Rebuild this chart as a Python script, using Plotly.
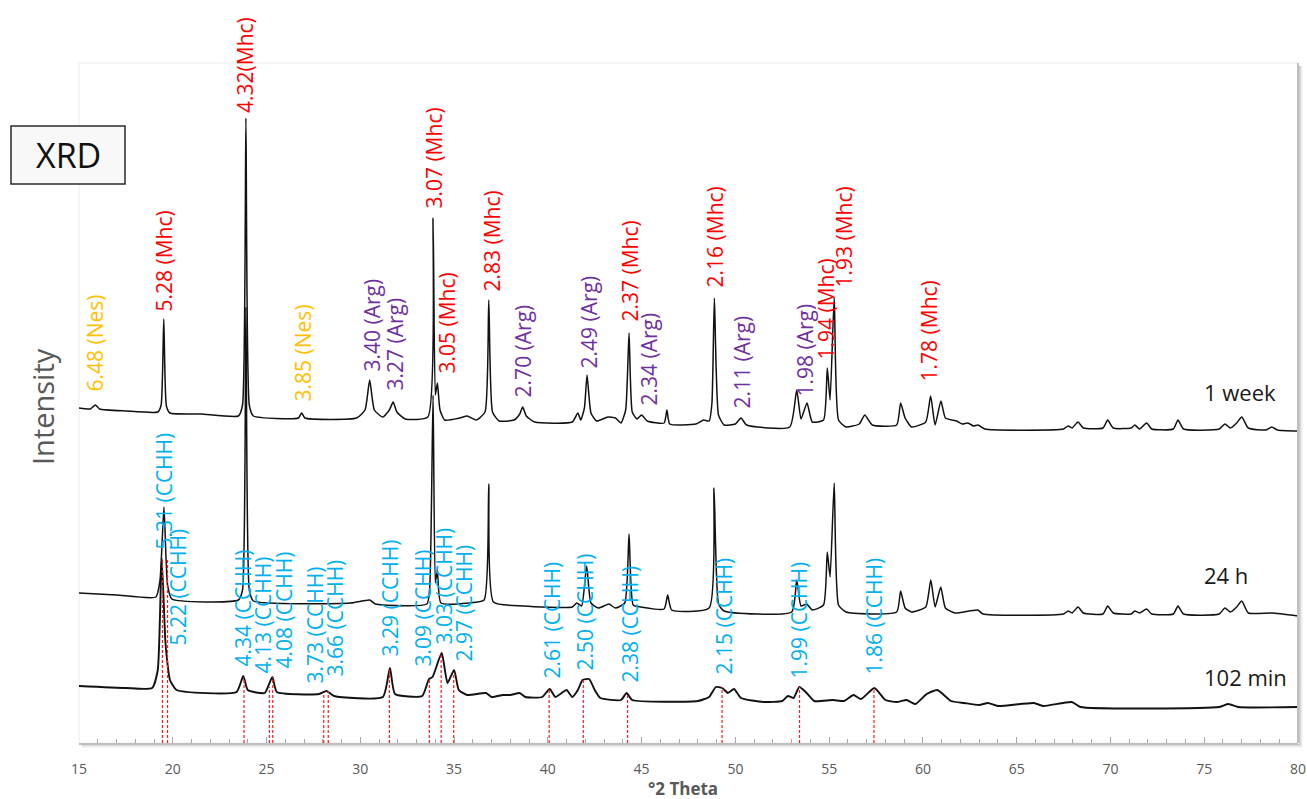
import plotly.graph_objects as go

# ---------------------------------------------------------------------------
# Diffraction patterns (Co K-alpha, degrees 2-theta vs. stacked intensity, a.u.)
# ---------------------------------------------------------------------------
week1_pattern = [
    (15.0, 335), (15.6, 334), (15.87, 338), (16.1, 334), (17.5, 332), (19.2, 331),
    (19.38, 338), (19.52, 424), (19.66, 337), (19.85, 330), (21.5, 329), (23.5, 327),
    (23.72, 338), (23.9, 625), (24.08, 338), (24.3, 327), (26.7, 325), (26.87, 330),
    (27.05, 325), (29.8, 325), (30.25, 333), (30.5, 363), (30.75, 333), (31.2, 326),
    (31.55, 333), (31.75, 341), (31.95, 331), (32.4, 324), (33.6, 326), (33.88, 525),
    (34.0, 348), (34.11, 360), (34.25, 333), (34.5, 323), (35.3, 325), (35.7, 327),
    (36.2, 323), (36.65, 331), (36.85, 443), (37.05, 331), (37.4, 322), (38.2, 323),
    (38.5, 329), (38.66, 336), (38.85, 327), (39.3, 321), (41.3, 321), (41.6, 330),
    (41.75, 323), (41.95, 335), (42.09, 368), (42.3, 330), (42.6, 322), (43.2, 326),
    (43.6, 325), (43.9, 320), (44.15, 333), (44.33, 410), (44.5, 331), (44.75, 324),
    (45.0, 328), (45.3, 322), (46.2, 320), (46.35, 333), (46.5, 319), (47.9, 319),
    (48.3, 323), (48.6, 322), (48.75, 340), (48.88, 445), (49.1, 328), (49.4, 318),
    (50.0, 319), (50.3, 325), (50.6, 318), (52.9, 316), (53.27, 353), (53.5, 324),
    (53.82, 340), (54.1, 321), (54.7, 323), (54.9, 375), (55.05, 343), (55.27, 446),
    (55.5, 323), (55.9, 316), (56.6, 319), (56.9, 328), (57.3, 318), (58.6, 318),
    (58.81, 340), (59.05, 325), (59.4, 316), (60.15, 321), (60.41, 347), (60.65, 318),
    (60.96, 342), (61.2, 325), (61.8, 322), (62.1, 319), (62.4, 320), (62.7, 317),
    (62.94, 318), (63.3, 314), (67.5, 314), (67.74, 317), (67.95, 315), (68.27, 321),
    (68.55, 315), (69.6, 315), (69.85, 323), (70.15, 315), (71.1, 315), (71.3, 318),
    (71.55, 314), (71.93, 320), (72.2, 314), (73.35, 314), (73.6, 323), (73.9, 314),
    (75.8, 314), (76.1, 319), (76.4, 315), (76.73, 320), (77.0, 326), (77.35, 315),
    (78.3, 313), (78.6, 316), (78.9, 313), (80.0, 312),
]

hours24_pattern = [
    (15.0, 150), (17.0, 148), (19.1, 146), (19.32, 163), (19.53, 236), (19.72, 158),
    (19.95, 144), (23.5, 143), (23.72, 153), (23.9, 436), (24.08, 153), (24.3, 142),
    (29.5, 140), (30.5, 143), (30.8, 139), (33.55, 139), (33.7, 155), (33.88, 348),
    (34.0, 160), (34.11, 173), (34.3, 140), (35.8, 140), (36.6, 143), (36.85, 259),
    (37.1, 141), (38.7, 137), (41.3, 136), (41.54, 140), (41.8, 137), (42.07, 177),
    (42.3, 140), (42.7, 135), (43.26, 139), (43.6, 135), (44.1, 140), (44.33, 209),
    (44.55, 138), (44.95, 136), (46.2, 134), (46.39, 148), (46.6, 133), (48.6, 135),
    (48.86, 255), (49.1, 139), (49.4, 132), (53.0, 131), (53.27, 163), (53.5, 137),
    (53.8, 139), (54.1, 133), (54.7, 138), (54.9, 191), (55.05, 166), (55.27, 260),
    (55.5, 138), (55.9, 131), (58.6, 131), (58.81, 152), (59.05, 135), (59.4, 131),
    (60.15, 136), (60.42, 163), (60.65, 136), (60.95, 156), (61.2, 135), (61.7, 130),
    (62.92, 133), (63.2, 129), (67.5, 129), (67.74, 132), (67.95, 130), (68.27, 136),
    (68.55, 130), (69.6, 129), (69.85, 137), (70.15, 130), (71.1, 129), (71.3, 132),
    (71.55, 130), (71.93, 134), (72.2, 129), (73.35, 129), (73.6, 137), (73.9, 129),
    (75.8, 129), (76.1, 135), (76.4, 131), (76.73, 136), (77.0, 142), (77.35, 130),
    (78.6, 130), (80.0, 127),
]

min102_pattern = [
    (15.0, 57), (17.5, 55), (18.9, 55), (19.2, 73), (19.41, 185), (19.6, 103),
    (19.68, 86), (19.85, 63), (20.2, 53), (23.4, 51), (23.76, 67), (24.0, 53),
    (24.9, 50), (25.31, 66), (25.55, 51), (27.8, 49), (28.2, 52), (28.6, 47),
    (31.2, 46), (31.58, 75), (31.85, 49), (33.3, 47), (33.66, 64), (33.85, 66),
    (34.34, 90), (34.65, 60), (35.0, 73), (35.25, 53), (35.7, 48), (36.7, 50),
    (37.0, 46), (37.6, 48), (38.0, 48), (38.5, 50), (38.8, 46), (39.7, 46),
    (40.1, 54), (40.4, 46), (41.0, 53), (41.3, 46), (41.6, 53), (41.85, 63),
    (42.2, 64), (42.5, 53), (42.8, 45), (43.9, 43), (44.2, 50), (44.5, 43),
    (48.0, 42), (48.6, 46), (48.96, 56), (49.3, 55), (49.6, 50), (49.93, 54),
    (50.3, 45), (51.5, 41), (52.5, 42), (52.8, 47), (53.1, 45), (53.41, 56),
    (53.8, 50), (54.2, 42), (55.2, 43), (55.8, 42), (56.3, 48), (56.7, 44),
    (57.41, 55), (58.0, 43), (58.6, 41), (59.13, 43), (59.6, 39), (60.2, 49),
    (60.77, 53), (61.5, 42), (62.2, 40), (63.0, 38), (63.47, 40), (64.0, 37),
    (65.92, 40), (66.4, 37), (67.93, 41), (68.4, 36), (75.8, 36), (76.28, 39),
    (76.8, 36), (80.0, 36),
]

# CCHH reflections marked on the 102 min pattern: position and line height
cchh_2theta = [19.45, 19.72, 23.80, 25.15, 25.33, 28.05, 28.29, 31.55, 33.68,
               34.31, 34.98, 40.07, 41.89, 44.25, 49.29, 53.42, 57.39]
cchh_top = [183, 183, 66, 56, 66, 50, 52, 73, 63, 88, 71, 53, 63, 50, 56, 56, 55]

# d-spacing labels: (text, phase, 2-theta, label base)
phase_labels = [
    ("6.48 (Nes)", "Nes", 15.85, 350),
    ("5.28 (Mhc)", "Mhc", 19.53, 430),
    ("4.32(Mhc)", "Mhc", 23.85, 628),
    ("3.85 (Nes)", "Nes", 26.94, 340),
    ("3.40 (Arg)", "Arg", 30.62, 370),
    ("3.27 (Arg)", "Arg", 31.80, 350),
    ("3.07 (Mhc)", "Mhc", 33.88, 532),
    ("3.05 (Mhc)", "Mhc", 34.62, 368),
    ("2.83 (Mhc)", "Mhc", 36.97, 449),
    ("2.70 (Arg)", "Arg", 38.67, 344),
    ("2.49 (Arg)", "Arg", 42.19, 373),
    ("2.37 (Mhc)", "Mhc", 44.33, 419),
    ("2.34 (Arg)", "Arg", 45.39, 336),
    ("2.16 (Mhc)", "Mhc", 48.91, 454),
    ("2.11 (Arg)", "Arg", 50.35, 333),
    ("1.98 (Arg)", "Arg", 53.71, 345),
    ("1.94 (Mhc)", "Mhc", 54.78, 381),
    ("1.93 (Mhc)", "Mhc", 55.79, 454),
    ("1.78 (Mhc)", "Mhc", 60.32, 360),
    ("5.31 (CCHH)", "CCHH", 19.48, 191),
    ("5.22 (CCHH)", "CCHH", 20.23, 95),
    ("4.34 (CCHH)", "CCHH", 23.74, 75),
    ("4.13 (CCHH)", "CCHH", 24.81, 68),
    ("4.08 (CCHH)", "CCHH", 25.93, 73),
    ("3.73 (CCHH)", "CCHH", 27.58, 58),
    ("3.66 (CCHH)", "CCHH", 28.65, 65),
    ("3.29 (CCHH)", "CCHH", 31.58, 85),
    ("3.09 (CCHH)", "CCHH", 33.34, 75),
    ("3.03 (CCHH)", "CCHH", 34.41, 96),
    ("2.97 (CCHH)", "CCHH", 35.48, 79),
    ("2.61 (CCHH)", "CCHH", 40.17, 62),
    ("2.50 (CCHH)", "CCHH", 41.98, 71),
    ("2.38 (CCHH)", "CCHH", 44.33, 58),
    ("2.15 (CCHH)", "CCHH", 49.34, 66),
    ("1.99 (CCHH)", "CCHH", 53.34, 62),
    ("1.86 (CCHH)", "CCHH", 57.34, 66),
]

series_names = ["1 week", "24 h", "102 min"]
series_label_y = [351, 168, 66]

x_ticks = list(range(15, 81, 5))

# ---------------------------------------------------------------------------
PHASE_COLORS = {"Mhc": "#FF0000", "Arg": "#7030A0", "Nes": "#FFC000", "CCHH": "#00B0F0"}
FONT = "Open Sans, Segoe UI, Lato, sans-serif"

W, H = 1307, 799
ML, MR, MT, MB = 79, 9, 63, 56
PW, PH = W - ML - MR, H - MT - MB


def px_x(p):
    return (p - ML) / PW


def px_y(p):
    return (H - MB - p) / PH


fig = go.Figure()

for pattern, width in ((min102_pattern, 1.9), (hours24_pattern, 1.5), (week1_pattern, 1.5)):
    fig.add_trace(go.Scatter(
        x=[p[0] for p in pattern], y=[p[1] for p in pattern], mode="lines",
        line=dict(color="#111111", width=width, shape="spline", smoothing=0.5),
        showlegend=False,
    ))

# red dashed markers for the CCHH reflections
dash_x, dash_y = [], []
for t, h in zip(cchh_2theta, cchh_top):
    dash_x += [t, t, None]
    dash_y += [0, h, None]
fig.add_trace(go.Scatter(x=dash_x, y=dash_y, mode="lines",
                         line=dict(color="#FF1a1a", width=1.2, dash="3px,2px"),
                         hoverinfo="skip", showlegend=False))

annotations = []
for text, phase, t, base in phase_labels:
    annotations.append(dict(
        x=t, y=base, xref="x", yref="y", text=text, textangle=-90,
        xanchor="center", yanchor="bottom", showarrow=False,
        font=dict(family=FONT, size=21, color=PHASE_COLORS[phase]),
    ))

for name, yv in zip(series_names, series_label_y):
    annotations.append(dict(
        x=74.88, y=yv, xref="x", yref="y", text=name, xanchor="left",
        yanchor="middle", showarrow=False,
        font=dict(family=FONT, size=22, color="#1a1a1a"),
    ))

annotations += [
    dict(x=px_x(42), y=px_y(407), xref="paper", yref="paper", text="Intensity",
         textangle=-90, showarrow=False, xanchor="center", yanchor="middle",
         font=dict(family=FONT, size=29, color="#595959")),
    dict(x=px_x(683), y=px_y(788), xref="paper", yref="paper", text="<b>°2 Theta</b>",
         showarrow=False, xanchor="center", yanchor="middle",
         font=dict(family=FONT, size=17, color="#595959")),
    dict(x=px_x(68), y=px_y(155), xref="paper", yref="paper", text="XRD",
         showarrow=False, xanchor="center", yanchor="middle",
         font=dict(family=FONT, size=34, color="#111111")),
]

shapes = [
    # plot frame
    dict(type="rect", xref="paper", yref="paper", x0=0, x1=1, y0=0, y1=1,
         line=dict(color="#ececec", width=1), layer="below"),
    # XRD box
    dict(type="rect", xref="paper", yref="paper", x0=px_x(11), x1=px_x(125),
         y0=px_y(184), y1=px_y(126), fillcolor="#f8f8f8",
         line=dict(color="#2b2b2b", width=1.5), layer="below"),
]
# soft drop shadow along the bottom and right edges
for i, a in enumerate([0.22, 0.14, 0.08, 0.04]):
    off = i + 1.5
    shapes.append(dict(type="line", xref="paper", yref="paper",
                       x0=px_x(ML + 3), x1=px_x(W - MR + off), y0=px_y(H - MB + off), y1=px_y(H - MB + off),
                       line=dict(color=f"rgba(0,0,0,{a})", width=1), layer="below"))
    shapes.append(dict(type="line", xref="paper", yref="paper",
                       x0=px_x(W - MR + off), x1=px_x(W - MR + off), y0=px_y(MT + 3), y1=px_y(H - MB + off),
                       line=dict(color=f"rgba(0,0,0,{a})", width=1), layer="below"))
shapes.append(dict(type="line", xref="paper", yref="paper", x0=1, x1=1, y0=0, y1=1,
                   line=dict(color="#bfbfbf", width=2)))

fig.update_layout(
    width=W, height=H,
    margin=dict(l=ML, r=MR, t=MT, b=MB, autoexpand=False),
    paper_bgcolor="white", plot_bgcolor="white",
    showlegend=False,
    annotations=annotations,
    shapes=shapes,
    xaxis=dict(
        range=[15, 80], tickvals=x_ticks, ticks="inside", ticklen=6, tickwidth=1,
        tickcolor="#a6a6a6", showline=True, linecolor="#bfbfbf", linewidth=2,
        showgrid=False, zeroline=False, ticklabelstandoff=12, automargin=False,
        tickfont=dict(family=FONT, size=14, color="#595959"),
        minor=dict(dtick=1, ticks="inside", ticklen=4, tickcolor="#a6a6a6", showgrid=False),
    ),
    yaxis=dict(range=[0, 680], visible=False, showgrid=False, zeroline=False,
               automargin=False),
)

fig.write_html("out.html")
